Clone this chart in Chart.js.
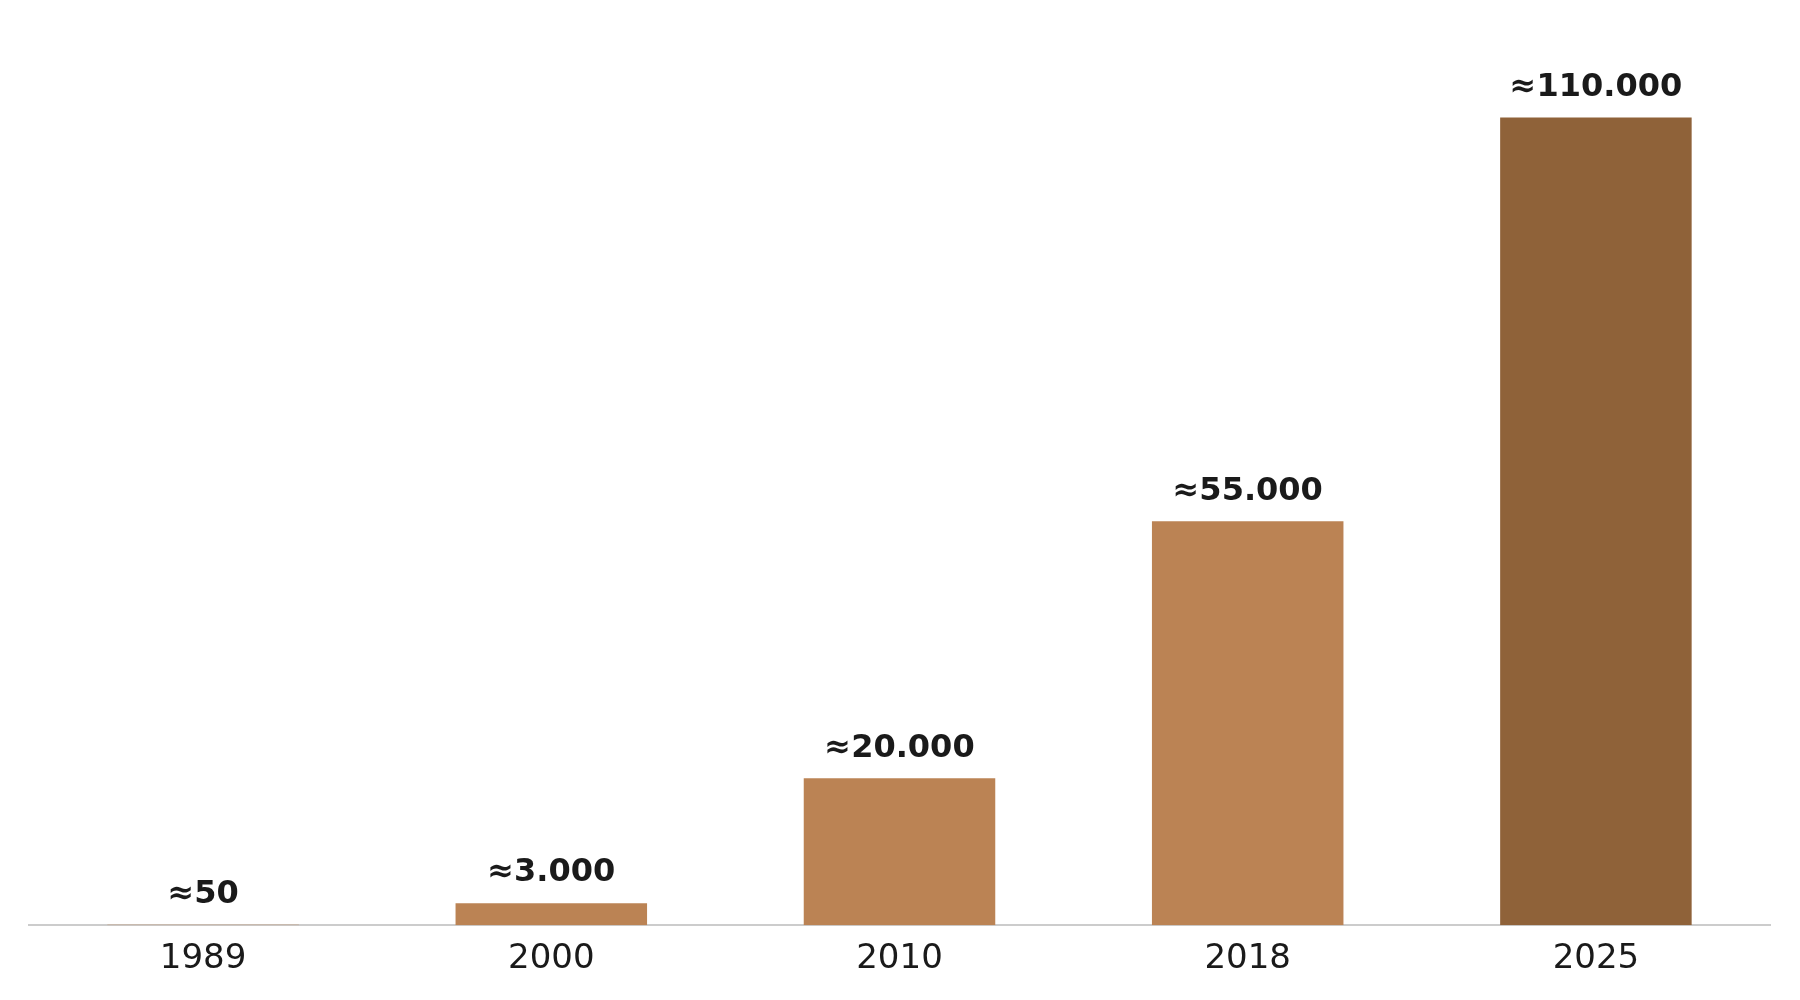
<!DOCTYPE html>
<html><head><meta charset="utf-8">
<script src="https://cdn.jsdelivr.net/npm/chart.js@4"></script>
<style>html,body{margin:0;background:#fff}#w{width:1800px;height:1000px}</style>
</head><body><div id="w"><canvas id="c"></canvas></div>
<script>
const categories = ["1989","2000","2010","2018","2025"];
const values = [50, 3000, 20000, 55000, 110000];
const valueLabels = ["≈50","≈3.000","≈20.000","≈55.000","≈110.000"];
const colors = ["#BB8354","#BB8354","#BB8354","#BB8354","#8F6239"];
const labelPlugin = {
  id:'vl',
  afterDatasetsDraw(chart){
    const ctx = chart.ctx; const meta = chart.getDatasetMeta(0);
    ctx.save();
    ctx.font = 'bold 32px "DejaVu Sans"'; ctx.fillStyle = '#1a1a1a';
    ctx.textAlign='center'; ctx.textBaseline='bottom';
    meta.data.forEach((b,i)=>ctx.fillText(valueLabels[i], b.x, b.y-14));
    ctx.restore();
  }
};
new Chart(document.getElementById('c'),{
  type:'bar',
  data:{labels:categories,datasets:[{data:values,backgroundColor:colors,categoryPercentage:1,barPercentage:0.55}]},
  options:{
    responsive:true,maintainAspectRatio:false,animation:false,
    layout:{padding:{left:29,right:30,top:0,bottom:14}},
    plugins:{legend:{display:false},tooltip:{enabled:false}},
    scales:{
      x:{grid:{display:false},border:{color:'#cccccc',width:2},
         ticks:{color:'#1a1a1a',font:{family:'DejaVu Sans',size:34},padding:6}},
      y:{display:false,min:0,max:126000}
    }
  },
  plugins:[labelPlugin]
});
</script></body></html>
